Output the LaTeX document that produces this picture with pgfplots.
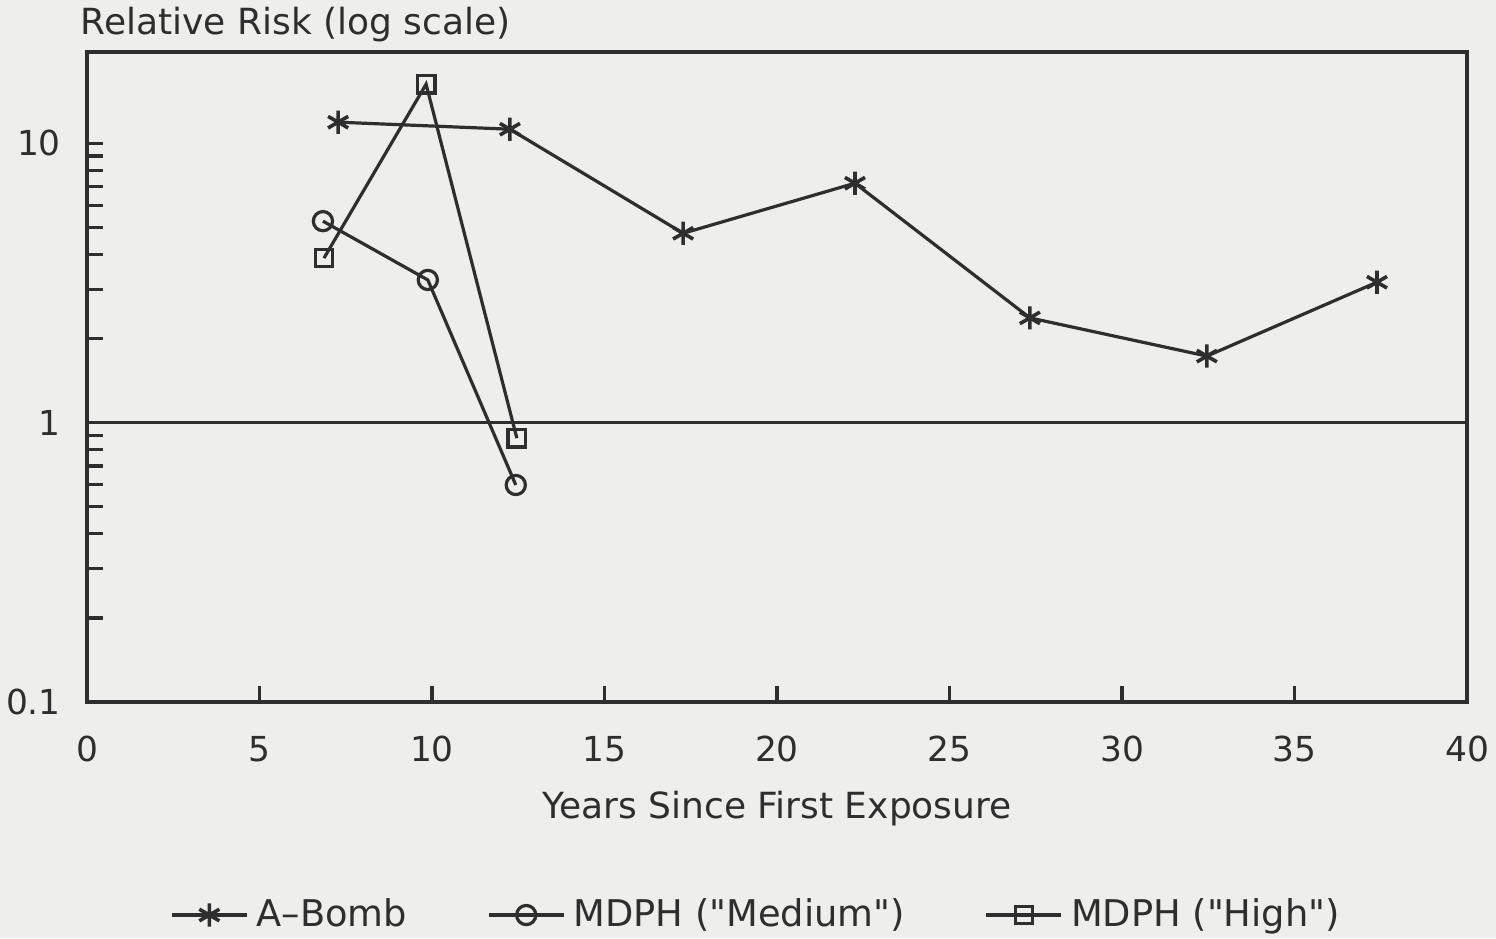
\documentclass[border=0pt]{standalone}
\usepackage{pgfplots}
\pgfplotsset{compat=1.18}
\usepackage{fontspec}
\setmainfont{DejaVu Sans}[Ligatures=TeXOff]
\usetikzlibrary{backgrounds}
\definecolor{bgc}{HTML}{EEEEEC}
\definecolor{ink}{HTML}{2E2E2E}
\begin{document}
\begin{tikzpicture}
\begin{axis}[
  name=ax,
  width=345pt, height=162.5pt, scale only axis,
  xmin=0, xmax=40, ymin=0.1, ymax=21.2,
  ymode=log,
  axis line style={ink, line width=0.8pt},
  every tick/.style={ink, line width=0.8pt},
  tick align=inside,
  xtick pos=bottom, ytick pos=left,
  xtick={0,5,...,40},
  ytick={0.1,1,10}, yticklabels={0.1,1,10},
  minor ytick={0.2,0.3,0.4,0.5,0.6,0.7,0.8,0.9,2,3,4,5,6,7,8,9},
  major tick length=4pt, minor tick length=4pt,
  /pgf/number format/assume math mode=true,
  ticklabel style={font=\fontsize{8.6}{10}\selectfont, text=ink},
  xticklabel style={yshift=-5pt},
  yticklabel style={xshift=-3pt},
  xlabel={Years Since First Exposure},
  xlabel style={at={(axis description cs:0.5,0)}, anchor=base, yshift=-29pt, font=\fontsize{9}{11}\selectfont, text=ink},
  legend columns=3,
  legend style={at={(0.487,-0.3277)}, anchor=center, draw=none, fill=none,
    font=\fontsize{9.2}{11}\selectfont, text=ink,
    /tikz/every even column/.append style={column sep=18pt}},
  legend cell align=left,
  legend image code/.code={\draw[mark repeat=2,mark phase=2] plot coordinates {(0cm,0cm) (0.33cm,0cm) (0.66cm,0cm)};},
  every axis plot/.append style={ink, line width=0.8pt},
]
\addplot[mark=asterisk, mark size=2.9pt, mark options={line width=0.9pt}] coordinates {
  (7.28,11.89) (12.26,11.22) (17.28,4.76) (22.26,7.19) (27.33,2.37) (32.46,1.73) (37.39,3.18)};
\addlegendentry{A\textendash Bomb}
\addplot[mark=o, mark size=2.4pt] coordinates {
  (6.84,5.26) (9.88,3.24) (12.43,0.598)};
\addlegendentry{MDPH ("Medium")}
\addplot[mark=square, mark size=2.2pt] coordinates {
  (6.87,3.88) (9.83,16.26) (12.46,0.880)};
\addlegendentry{MDPH ("High")}
\addplot[forget plot, ink, line width=0.8pt, mark=none] coordinates {(0,1) (40,1)};
\coordinate (BL) at (rel axis cs:-0.0630,-0.3631);
\coordinate (TR) at (rel axis cs:1.0210,1.08);
\end{axis}
\node[anchor=base west, font=\fontsize{9}{11}\selectfont, text=ink, inner sep=0pt] at ([xshift=-1.75pt, yshift=4.25pt]ax.north west) {Relative Risk (log scale)};
\begin{pgfonlayer}{background}
\fill[bgc] (BL) rectangle (TR);
\end{pgfonlayer}
\pgfresetboundingbox
\path[use as bounding box] (BL) rectangle (TR);
\end{tikzpicture}
\end{document}
